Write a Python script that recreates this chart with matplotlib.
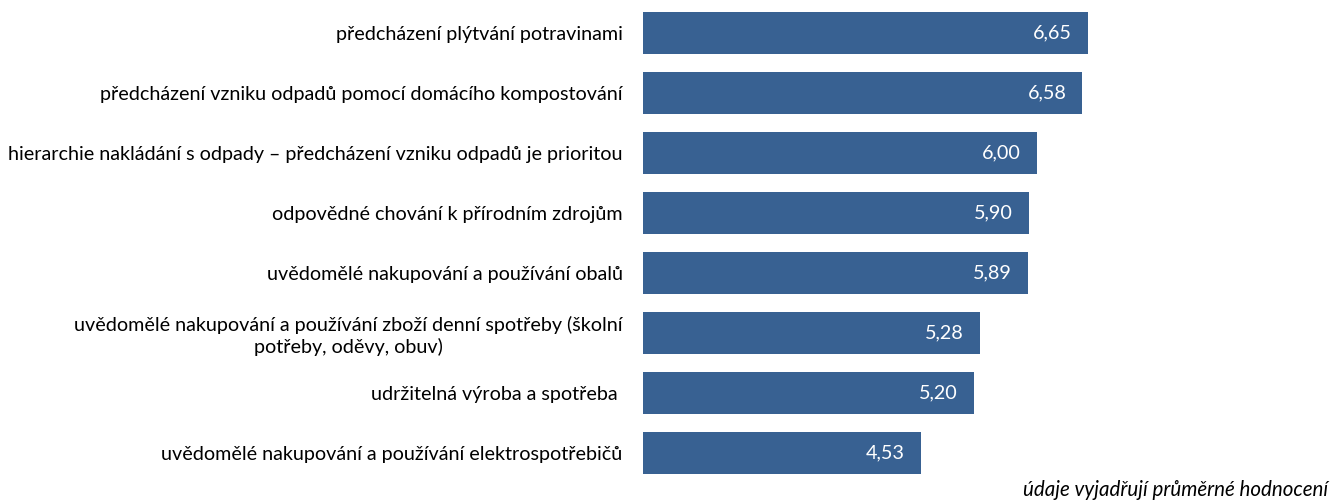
import matplotlib
matplotlib.use("Agg")
import matplotlib.pyplot as plt

categories = [
    "předcházení plýtvání potravinami",
    "předcházení vzniku odpadů pomocí domácího kompostování",
    "hierarchie nakládání s odpady – předcházení vzniku odpadů je prioritou",
    "odpovědné chování k přírodním zdrojům",
    "uvědomělé nakupování a používání obalů",
    "uvědomělé nakupování a používání zboží denní spotřeby (školní\npotřeby, oděvy, obuv)",
    "udržitelná výroba a spotřeba ",
    "uvědomělé nakupování a používání elektrospotřebičů",
]
values = [6.65, 6.58, 6.00, 5.90, 5.89, 5.28, 5.20, 4.53]
note = "údaje vyjadřují průměrné hodnocení"

plt.rcParams['font.family'] = ['Lato', 'DejaVu Sans']

W, H = 1333, 503
fig = plt.figure(figsize=(W / 100, H / 100), dpi=100)
left_px, right_px = 642.7, 1273.0
top_px, bot_px = 3.0, 483.0
ax = fig.add_axes([left_px / W, 1 - bot_px / H, (right_px - left_px) / W, (bot_px - top_px) / H])

xmin = 1.0
y = list(range(len(categories)))
ax.barh(y, [v - xmin for v in values], left=xmin, height=0.7, color="#386192")
ax.set_xlim(xmin, 9.0)
ax.set_ylim(len(categories) - 0.5, -0.5)

for yi, v in zip(y, values):
    ax.annotate(f"{v:.2f}".replace(".", ","), xy=(v, yi), xytext=(-16, 0),
                textcoords="offset pixels", ha="right", va="center",
                color="white", fontsize=14.2)

ax.set_yticks(y)
ax.set_yticklabels(categories, fontsize=14.2, color="#000000", ha="right",
                   multialignment="center", linespacing=1.25)
ax.tick_params(axis="y", length=0, pad=14.4)
ax.set_xticks([])
for s in ax.spines.values():
    s.set_visible(False)

fig.text(1328 / W, 3 / H, note, ha="right", va="bottom",
         fontsize=14.8, style="italic")

fig.savefig("out.png", dpi=100)
